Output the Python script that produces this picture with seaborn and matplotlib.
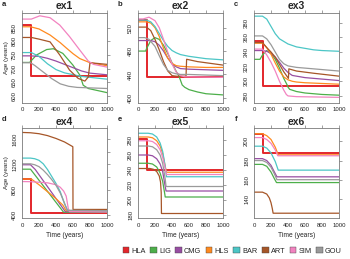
import numpy as np
import pandas as pd
import seaborn as sns
import matplotlib.pyplot as plt
from matplotlib.patches import Patch

# model codes and colours (legend order)
models = ['HLA', 'LIG', 'CMG', 'HLS', 'BAR', 'ART', 'SIM', 'GOU']
colors = ['#e3262b', '#4daf4a', '#984ea3', '#ff8a1f', '#4cc6c6', '#a65628', '#f283c0', '#9a9a9a']

# (time, age) points
ex1 = {
    'HLA': ([0, 100, 100, 1000], [859, 859, 673, 673]),
    'LIG': ([0, 90, 170, 290, 370, 480, 600, 680, 720, 780, 1000],
            [723, 723, 750, 770, 773, 756, 713, 677, 640, 628, 613]),
    'CMG': ([0, 100, 200, 300, 400, 500, 600, 700, 800, 1000],
            [747, 747, 745, 738, 728, 716, 704, 692, 684, 678]),
    'HLS': ([0, 100, 200, 330, 450, 520, 600, 680, 800, 1000],
            [853, 853, 845, 823, 795, 776, 755, 737, 722, 711]),
    'BAR': ([0, 110, 200, 300, 400, 500, 700, 1000],
            [759, 759, 745, 718, 697, 685, 672, 662]),
    'ART': ([0, 110, 200, 330, 445, 560, 660, 740, 780, 800, 1000],
            [814, 814, 808, 798, 750, 695, 665, 655, 670, 722, 716]),
    'SIM': ([0, 110, 210, 330, 445, 560, 680, 780, 840, 1000],
            [881, 881, 893, 886, 859, 817, 768, 728, 716, 706]),
    'GOU': ([0, 100, 150, 250, 350, 450, 550, 650, 1000],
            [722, 722, 712, 688, 664, 645, 636, 632, 628]),
}
ex2 = {
    'HLA': ([0, 100, 100, 1000], [533, 533, 435, 435]),
    'LIG': ([0, 90, 100, 150, 200, 250, 300, 350, 400, 450, 480, 500, 520, 550, 600, 700, 800, 1000],
            [480, 480, 484, 498, 503, 500, 490, 476, 460, 445, 438, 430, 422, 418, 414, 410, 407, 405]),
    'CMG': ([0, 150, 200, 250, 300, 350, 400, 450, 500, 600, 800, 1000],
            [498, 498, 496, 490, 480, 468, 458, 453, 450, 449, 448, 447]),
    'HLS': ([0, 100, 150, 200, 250, 300, 350, 400, 450, 500, 600, 800, 1000],
            [530, 530, 528, 520, 505, 485, 468, 459, 455, 454, 453, 452, 452]),
    'BAR': ([0, 100, 150, 200, 250, 300, 350, 400, 450, 500, 600, 700, 800, 1000],
            [533, 533, 530, 522, 510, 498, 488, 481, 477, 474, 471, 469, 467, 465]),
    'ART': ([0, 100, 150, 200, 250, 300, 350, 400, 450, 500, 565, 572, 700, 850, 1000],
            [521, 521, 515, 500, 482, 462, 446, 438, 437, 437, 437, 466, 462, 459, 456]),
    'SIM': ([0, 60, 130, 200, 250, 300, 350, 400, 450, 500, 550, 1000],
            [535, 535, 538, 532, 520, 500, 478, 458, 444, 438, 436, 435]),
    'GOU': ([0, 80, 130, 200, 250, 300, 350, 400, 450, 500, 600, 800, 1000],
            [503, 503, 500, 488, 472, 457, 447, 443, 441, 440, 440, 439, 438]),
}
ex3 = {
    'HLA': ([0, 100, 100, 1000], [355, 355, 293, 293]),
    'LIG': ([0, 70, 100, 150, 200, 250, 300, 350, 390, 400, 420, 500, 600, 800, 1000],
            [330, 330, 336, 342, 338, 330, 318, 304, 295, 292, 289, 286, 284, 282, 281]),
    'CMG': ([0, 100, 150, 200, 250, 300, 350, 400, 450, 500, 600, 800, 1000],
            [342, 342, 341, 338, 333, 326, 318, 312, 308, 307, 305, 303, 301]),
    'HLS': ([0, 100, 150, 200, 250, 300, 350, 400, 450, 500, 600, 800, 1000],
            [352, 352, 346, 337, 325, 314, 306, 302, 300, 299, 298, 297, 296]),
    'BAR': ([0, 100, 150, 200, 250, 300, 400, 500, 600, 700, 800, 1000],
            [389, 389, 385, 375, 365, 358, 351, 347, 345, 343, 342, 341]),
    'ART': ([0, 100, 150, 200, 250, 300, 350, 405, 410, 500, 700, 1000],
            [353, 353, 346, 340, 333, 323, 313, 304, 317, 314, 311, 307]),
    'SIM': ([0, 100, 150, 200, 250, 300, 350, 380, 400, 500, 1000],
            [344, 344, 336, 326, 314, 300, 288, 282, 280, 279, 278]),
    'GOU': ([0, 100, 150, 200, 250, 300, 350, 400, 500, 600, 800, 1000],
            [362, 362, 358, 350, 340, 330, 324, 321, 319, 318, 316, 314]),
}
ex4 = {
    'HLA': ([0, 100, 100, 1000], [970, 970, 432, 432]),
    'LIG': ([0, 100, 490, 1000], [1125, 1125, 445, 445]),
    'CMG': ([0, 100, 156, 510, 1000], [1195, 1195, 1120, 455, 455]),
    'HLS': ([0, 110, 200, 300, 400, 480, 520, 1000], [970, 970, 880, 770, 660, 560, 470, 458]),
    'BAR': ([0, 100, 150, 200, 250, 300, 350, 400, 450, 500, 540, 1000],
            [1300, 1300, 1290, 1265, 1210, 1120, 1010, 900, 770, 580, 470, 462]),
    'ART': ([0, 100, 200, 300, 400, 500, 598, 600, 1000],
            [1705, 1700, 1685, 1655, 1610, 1555, 1480, 490, 490]),
    'SIM': ([0, 100, 300, 400, 450, 490, 520, 545, 560, 1000],
            [930, 928, 910, 880, 840, 780, 700, 500, 455, 450]),
    'GOU': ([0, 100, 150, 200, 250, 300, 350, 400, 450, 500, 530, 1000],
            [1210, 1210, 1195, 1165, 1110, 1040, 960, 870, 750, 590, 478, 470]),
}
ex5 = {
    'HLA': ([0, 100, 100, 1000], [281, 281, 240, 240]),
    'LIG': ([0, 120, 170, 220, 260, 290, 315, 320, 1000], [249, 249, 248, 244, 236, 225, 208, 204, 204]),
    'CMG': ([0, 120, 170, 220, 260, 290, 320, 330, 1000], [260, 260, 259, 255, 248, 238, 218, 212, 212]),
    'HLS': ([0, 120, 170, 220, 260, 290, 320, 335, 1000], [284, 284, 283, 279, 272, 262, 245, 237, 237]),
    'BAR': ([0, 120, 170, 220, 260, 290, 320, 335, 1000], [289, 289, 288, 284, 276, 265, 245, 231, 231]),
    'ART': ([0, 140, 180, 220, 250, 265, 273, 276, 1000], [242, 242, 241, 238, 232, 224, 210, 182, 182]),
    'SIM': ([0, 120, 170, 220, 260, 290, 320, 335, 1000], [279, 279, 278, 274, 267, 257, 242, 234, 234]),
    'GOU': ([0, 120, 170, 220, 260, 290, 320, 330, 1000], [272, 272, 271, 267, 260, 249, 228, 218, 218]),
}
ex6 = {
    'HLA': ([0, 100, 100, 1000], [208, 208, 188, 188]),
    'LIG': ([0, 100, 150, 200, 240, 265, 1000], [176, 176, 174, 168, 161, 157, 157]),
    'CMG': ([0, 100, 150, 200, 240, 270, 1000], [182, 182, 180, 175, 168, 163, 163]),
    'HLS': ([0, 100, 150, 200, 250, 285, 1000], [208, 208, 206, 202, 194, 186, 186]),
    'BAR': ([0, 100, 150, 200, 250, 285, 1000], [195, 195, 193, 188, 179, 170, 170]),
    'ART': ([0, 100, 150, 180, 200, 215, 225, 1000], [147, 147, 145, 141, 136, 130, 125, 125]),
    'SIM': ([0, 100, 150, 200, 250, 280, 1000], [204, 204, 202, 198, 191, 185, 185]),
    'GOU': ([0, 100, 150, 200, 240, 270, 1000], [180, 180, 178, 173, 166, 160, 160]),
}

panels = [ex1, ex2, ex3, ex4, ex5, ex6]
titles = ['ex1', 'ex2', 'ex3', 'ex4', 'ex5', 'ex6']
letters = ['a', 'b', 'c', 'd', 'e', 'f']
ylims = [(577, 905), (392, 546), (271, 394), (355, 1775), (176, 296), (120, 214)]
yticks = [np.arange(600, 851, 50), np.arange(400, 521, 20), np.arange(280, 381, 20),
          np.arange(400, 1601, 200), np.arange(180, 281, 20), np.arange(140, 201, 20)]
ylabel_every = [1, 2, 1, 2, 1, 1]

sns.set_style('white')
plt.rcParams['font.family'] = ['Liberation Sans', 'DejaVu Sans']

W, H = 350, 259
fig = plt.figure(figsize=(W / 100, H / 100), dpi=100)

col_left = [22, 138, 254]
row_top = [12.5, 128]
ax_w, ax_h = 85, 90
grey = '#7a7a7a'

for i, data in enumerate(panels):
    r, c = divmod(i, 3)
    left = col_left[c]
    top = row_top[r]
    ax = fig.add_axes([left / W, 1 - (top + ax_h) / H, ax_w / W, ax_h / H])

    for m, col in zip(models, colors):
        t, v = data[m]
        sns.lineplot(x=t, y=v, ax=ax, color=col, lw=1.4 if m == 'HLA' else 0.9,
                     estimator=None, sort=False)

    ax.set_xlim(0, 1000)
    ax.set_ylim(*ylims[i])
    ax.set_xticks(np.arange(0, 1001, 200))
    ax.set_yticks(yticks[i])
    ylabs = [str(v) if k % ylabel_every[i] == 0 else '' for k, v in enumerate(yticks[i])]
    ax.set_yticklabels(ylabs, rotation=90, va='center')
    ax.tick_params(axis='both', direction='out', length=2, width=0.5, color=grey,
                   labelsize=4.3, pad=1.5, top=True, right=True, labelcolor='#222222')
    for s in ax.spines.values():
        s.set_visible(True)
        s.set_color(grey)
        s.set_linewidth(0.6)
    ax.set_xlabel('')
    ax.set_ylabel('')
    ax.set_title(titles[i], fontsize=7.5, fontweight='bold', pad=2.5)
    fig.text((left - 18) / W, 1 - (top - 8.5) / H, letters[i], fontsize=5.5,
             fontweight='bold', ha='center', va='center')
    if c == 0:
        ax.set_ylabel('Age (years)', fontsize=4.6, labelpad=2)
    if r == 1:
        ax.set_xlabel('Time (years)', fontsize=4.8, labelpad=3)

handles = [Patch(facecolor=col, edgecolor='#444444', linewidth=0.3, label=m)
           for m, col in zip(models, colors)]
fig.legend(handles=handles, loc='lower right', bbox_to_anchor=(347 / W, -1 / H), ncol=8,
           frameon=False, fontsize=5.3, handlelength=0.9, handleheight=0.9,
           handletextpad=0.3, columnspacing=0.6, borderpad=0.2)

fig.savefig('out.png', dpi=100)
